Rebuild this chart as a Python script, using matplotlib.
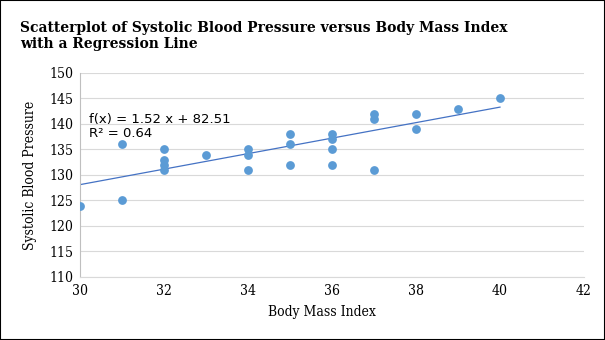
"""
scatterplot of systolic blood pressure vs body mass index with trendline
"""
import numpy as np
import matplotlib
matplotlib.use('Agg')
import matplotlib.pyplot as plt
from matplotlib.patches import Rectangle

bmi = [30, 31, 31, 32, 32, 32, 32, 33, 34, 34, 34,
       35, 35, 35, 36, 36, 36, 36, 37, 37, 37, 38, 38, 39, 40]
sbp = [124, 136, 125, 135, 133, 132, 131, 134, 135, 134, 131,
       138, 136, 132, 138, 137, 135, 132, 142, 141, 131, 142, 139, 143, 145]

slope = 1.52
intercept = 82.51
r_squared = 0.64

fig = plt.figure(figsize=(6.05, 3.4), dpi=100)
ax = fig.add_axes([80 / 605, 1 - 277 / 340, 504 / 605, 204 / 340])

ax.scatter(bmi, sbp, s=40, color='#5b9bd5', zorder=3, linewidths=0)

xs = np.array([min(bmi), max(bmi)])
ax.plot(xs, slope * xs + intercept, color='#4472c4', lw=0.9, zorder=2)

ax.text(30.22, 140.2, 'f(x) = %.2f x + %.2f' % (slope, intercept),
        fontsize=9.5, family='DejaVu Sans')
ax.text(30.22, 137.4, 'R² = %.2f' % r_squared, fontsize=9.5, family='DejaVu Sans')

ax.set_xlim(30, 42)
ax.set_ylim(110, 150)
ax.set_xticks(range(30, 43, 2))
ax.set_yticks(range(110, 151, 5))
ax.yaxis.grid(True, color='#d9d9d9', lw=0.8)
ax.set_axisbelow(True)
for side in ['top', 'right']:
    ax.spines[side].set_visible(False)
ax.spines['left'].set_color('#bfbfbf')
ax.spines['bottom'].set_color('#d9d9d9')
ax.tick_params(length=0, labelsize=10, pad=5)
for lab in ax.get_xticklabels() + ax.get_yticklabels():
    lab.set_family('DejaVu Serif')
    lab.set_stretch('condensed')

ax.set_xlabel('Body Mass Index', family='DejaVu Serif', stretch='condensed', fontsize=10)
ax.set_ylabel('Systolic Blood Pressure', family='DejaVu Serif', stretch='condensed', fontsize=10)
ax.xaxis.set_label_coords((322 - 80) / 504, -35 / 204)
ax.yaxis.set_label_coords(-50 / 504, 0.5)
ax.xaxis.label.set_va('center')
ax.yaxis.label.set_va('center')

fig.text(20 / 605, 1 - 21 / 340,
         'Scatterplot of Systolic Blood Pressure versus Body Mass Index\nwith a Regression Line',
         family='DejaVu Serif', stretch='condensed', fontweight='bold', fontsize=11.1,
         va='top', ha='left', linespacing=1.2)

fig.patches.append(Rectangle((0, 0), 1, 1, transform=fig.transFigure,
                             fill=False, edgecolor='black', lw=1.5))

plt.savefig('out.png', dpi=100)
